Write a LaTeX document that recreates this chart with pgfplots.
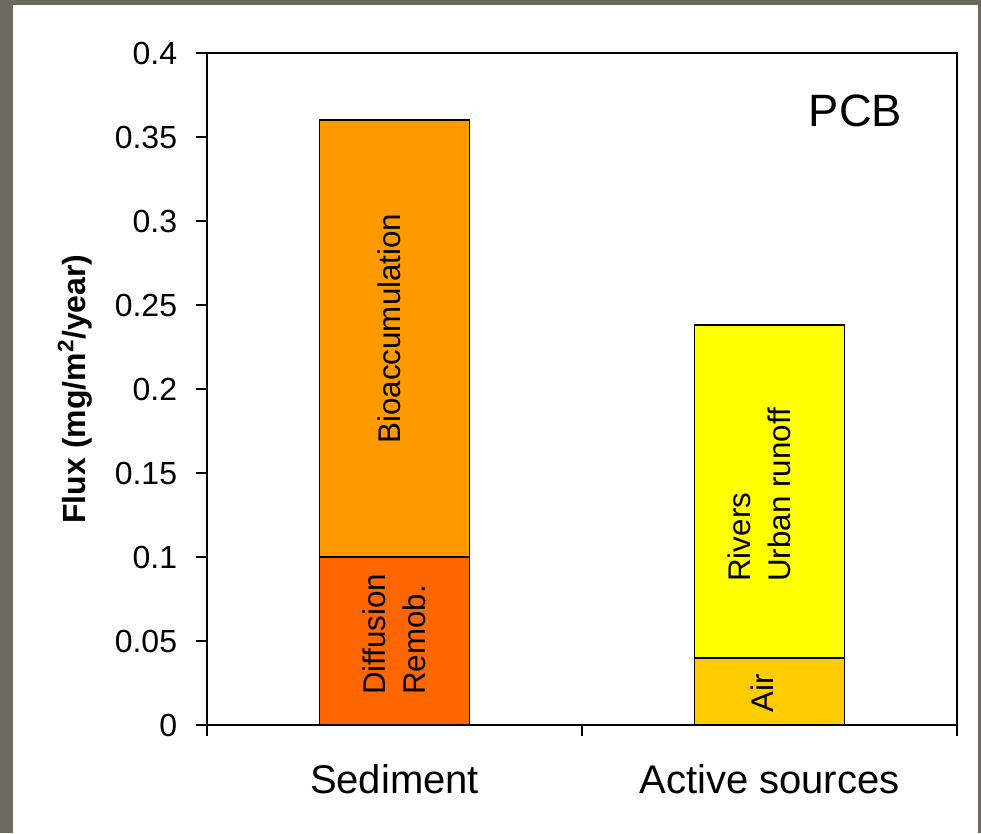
\documentclass[border=0pt]{standalone}
\usepackage{pgfplots}
\pgfplotsset{compat=1.18}
\usepackage{fontspec}
\setmainfont{Liberation Sans}
\definecolor{framegray}{RGB}{107,107,93}
\definecolor{diffc}{HTML}{FF6600}
\definecolor{bioc}{HTML}{FF9900}
\definecolor{airc}{HTML}{FFCC00}
\definecolor{rivc}{HTML}{FFFF00}

\begin{document}
\begin{tikzpicture}
% slide frame: 1px = 0.75pt, axis box lower left at (0,0)
\fill[framegray] (-155.25pt,-81pt) rectangle (580.5pt,543.75pt);
\fill[white] (-145.5pt,-81pt) rectangle (578.25pt,540pt);
\begin{axis}[
	scale only axis, width=562.5pt, height=504pt,
	ybar stacked, bar width=0.4,
	xmin=-0.5, xmax=1.5, ymin=0, ymax=0.4,
	axis on top,
	axis line style={line width=1.5pt},
	tick align=outside,
	xtick pos=bottom, ytick pos=left,
	major tick length=8.25pt,
	tick style={line width=1.5pt, black},
	xtick={-0.5,0.5,1.5}, xticklabels={},
	extra x ticks={0,1}, extra x tick labels={Sediment, Active sources},
	extra x tick style={major tick length=0pt,
		xticklabel style={font=\fontsize{30}{36}\selectfont, anchor=base, yshift=-51pt}},
	ytick={0,0.05,0.1,0.15,0.2,0.25,0.3,0.35,0.4},
	yticklabels={0,0.05,0.1,0.15,0.2,0.25,0.3,0.35,0.4},
	yticklabel style={font=\fontsize{24}{28}\selectfont, anchor=east, inner sep=0pt, xshift=-14pt},
	ylabel={Flux (mg/m\textsuperscript{2}/year)},
	every axis y label/.style={at={(axis description cs:0,0.5)}, xshift=-99pt, rotate=90, anchor=center, font=\fontsize{24}{28}\selectfont\bfseries},
]
\addplot[fill=diffc, draw=black, line width=1.2pt] coordinates {(0,0.10) (1,0)};
\addplot[fill=airc, draw=black, line width=1.2pt] coordinates {(0,0) (1,0.04)};
\addplot[fill=bioc, draw=black, line width=1.2pt] coordinates {(0,0.26) (1,0)};
\addplot[fill=rivc, draw=black, line width=1.2pt] coordinates {(0,0) (1,0.198)};

\coordinate (diff) at (axis cs:0,0.054);
\coordinate (bio) at (axis cs:-0.013,0.236);
\coordinate (riv) at (axis cs:0.973,0.137);
\coordinate (air) at (axis cs:0.98,0.0188);
\node[anchor=base, font=\fontsize{34}{40}\selectfont] at (axis cs:1.229,0.3565) {PCB};
\end{axis}
% segment labels, set after the stacked bars are drawn
\begin{scope}[every node/.style={font=\fontsize{23.5}{30}\selectfont, rotate=90, align=left}]
\node at (diff) {Diffusion\\Remob.};
\node at (bio) {Bioaccumulation};
\node at (riv) {Rivers\\Urban runoff};
\node at (air) {Air};
\end{scope}
\end{tikzpicture}
\end{document}
